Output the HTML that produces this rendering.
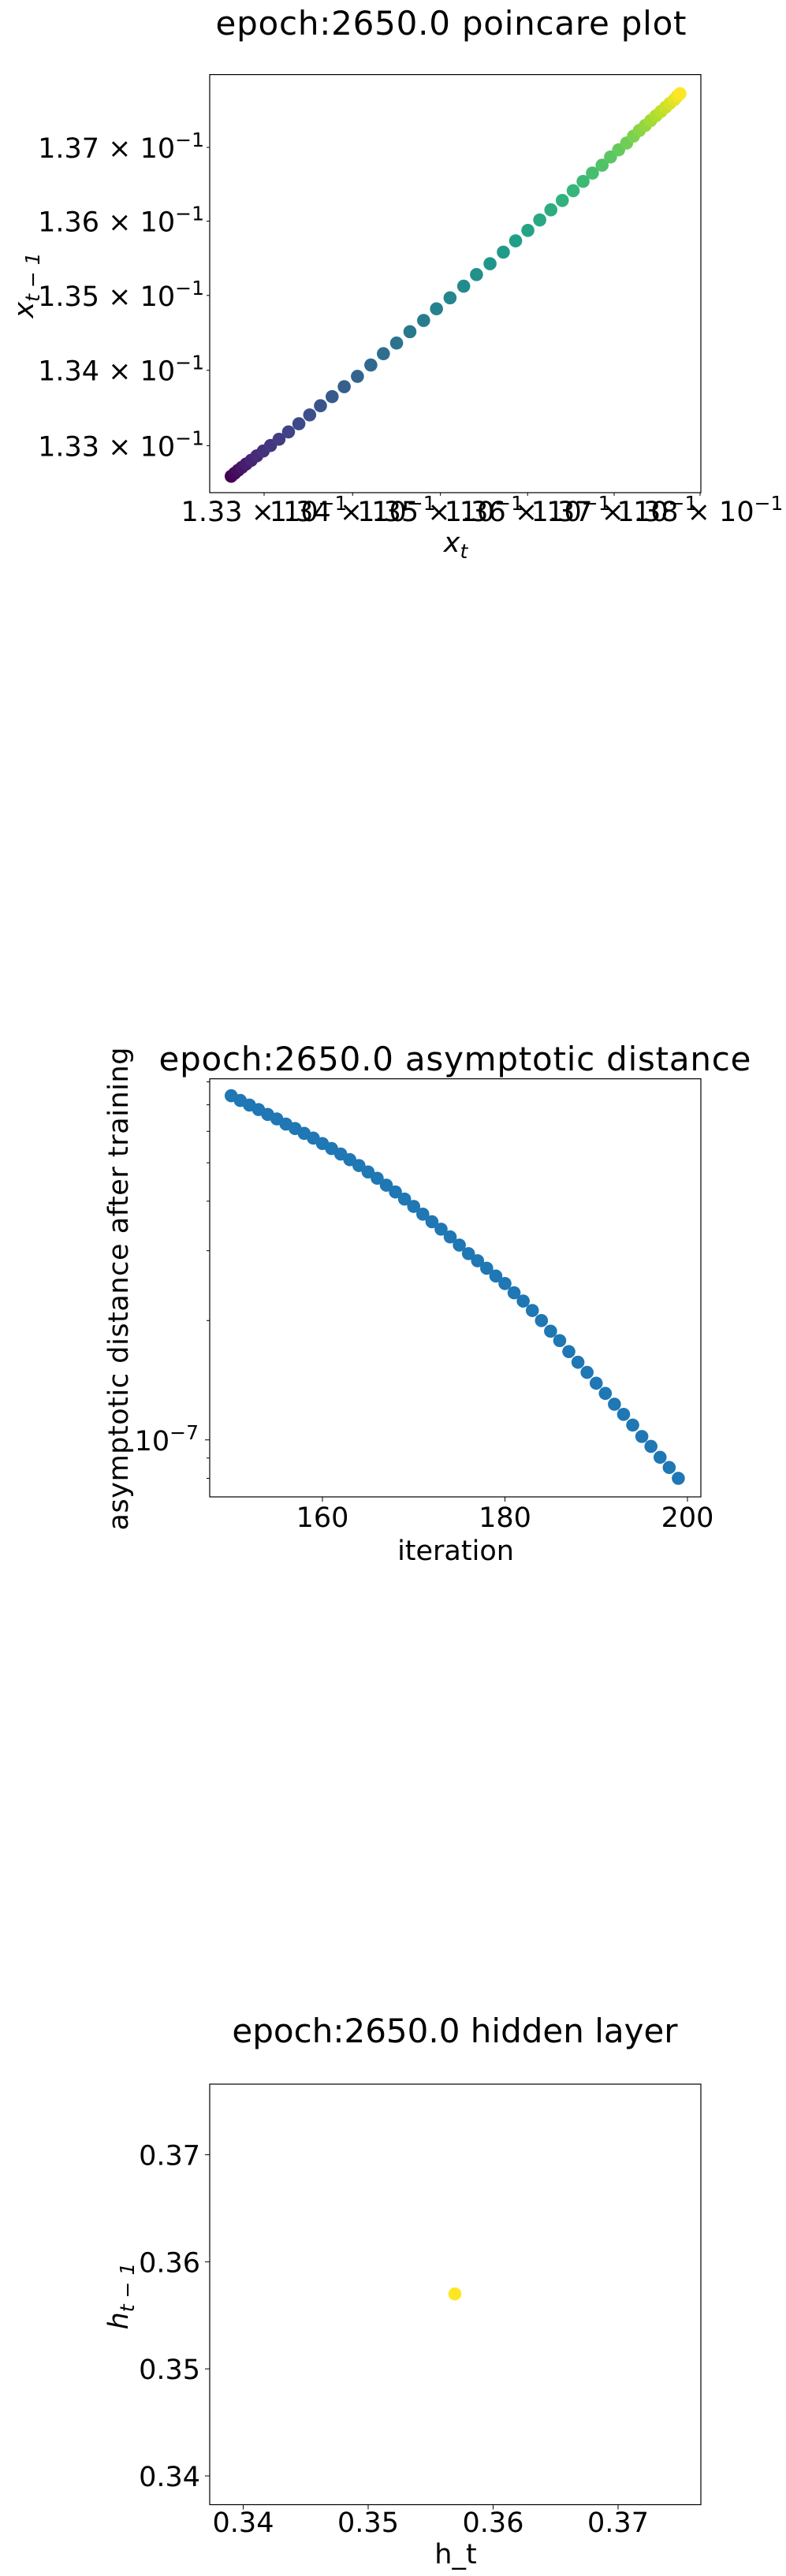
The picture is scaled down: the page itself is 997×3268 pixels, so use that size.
<!DOCTYPE html>
<html><head><meta charset="utf-8"><style>
html,body{margin:0;padding:0;background:#fff}
svg{display:block}
text{font-family:"DejaVu Sans","Liberation Sans",sans-serif;fill:#000}
</style></head><body>
<svg id="fig" width="997" height="3268" viewBox="0 0 997 3268" xmlns="http://www.w3.org/2000/svg"></svg>
<script>
// ---- Chart 1: poincare plot data ----
const poincareY = [1.32597,1.32636,1.32675,1.32714,1.32758,1.32807,1.32866,1.32929,1.33002,1.33085,1.33182,1.33290,1.33407,1.33529,1.33650,1.33782,1.33919,1.34070,1.34221,1.34363,1.34514,1.34665,1.34821,1.34968,1.35124,1.35280,1.35426,1.35582,1.35734,1.35875,1.36016,1.36153,1.36280,1.36412,1.36538,1.36651,1.36758,1.36870,1.36967,1.37060,1.37153,1.37231,1.37299,1.37367,1.37431,1.37490,1.37548,1.37602,1.37651,1.37700,1.37734];
const poincareX = [1.32630,1.32669,1.32708,1.32750,1.32798,1.32855,1.32918,1.32990,1.33072,1.33168,1.33275,1.33392,1.33514,1.33636,1.33768,1.33905,1.34055,1.34207,1.34350,1.34500,1.34652,1.34808,1.34955,1.35110,1.35266,1.35413,1.35568,1.35721,1.35862,1.36003,1.36140,1.36268,1.36400,1.36526,1.36640,1.36748,1.36860,1.36958,1.37052,1.37145,1.37224,1.37293,1.37361,1.37425,1.37485,1.37543,1.37598,1.37648,1.37698,1.37735,1.37765];
const poincareYTicks = [1.33,1.34,1.35,1.36,1.37];
const poincareXTicks = [1.33,1.34,1.35,1.36,1.37,1.38];
// ---- Chart 2: asymptotic distance data (units of 1e-7) ----
const iterations = [];
for (let i = 150; i <= 199; i++) iterations.push(i);
const distances = [7.38,7.18,6.99,6.81,6.62,6.45,6.26,6.10,5.93,5.77,5.59,5.43,5.26,5.09,4.92,4.74,4.57,4.39,4.22,4.05,3.88,3.71,3.55,3.40,3.25,3.10,2.95,2.83,2.71,2.59,2.48,2.35,2.24,2.12,2.00,1.88,1.78,1.67,1.57,1.48,1.39,1.31,1.23,1.16,1.09,1.02,0.963,0.904,0.852,0.800];
const iterTicks = [160,180,200];
const distMinorTicks = [0.8,0.9,2,3,4,5,6,7,8];
// ---- Chart 3: hidden layer ----
const hiddenX = [0.35694];
const hiddenY = [0.35700];
const hiddenTicks = [0.34,0.35,0.36,0.37];

const NS = "http://www.w3.org/2000/svg";
const svg = document.getElementById('fig');
function el(tag, attrs, parent) {
  const e = document.createElementNS(NS, tag);
  for (const k in attrs) e.setAttribute(k, attrs[k]);
  (parent || svg).appendChild(e);
  return e;
}
function txt(str, attrs, parent) { const t = el('text', attrs, parent); t.textContent = str; return t; }
function sup(t, base, s) {
  const a = document.createElementNS(NS, 'tspan'); a.textContent = base; t.appendChild(a);
  const b = document.createElementNS(NS, 'tspan'); b.textContent = s;
  b.setAttribute('dy', '-14'); b.setAttribute('font-size', '25'); t.appendChild(b);
}
function viridis(t) {
  const st = [[68,1,84],[72,40,120],[62,74,137],[49,104,142],[38,130,142],[31,158,137],[53,183,121],[110,206,88],[181,222,43],[253,231,37]];
  const p = t * (st.length - 1), i = Math.min(Math.floor(p), st.length - 2), f = p - i;
  const c = st[i].map((v, k) => Math.round(v + (st[i + 1][k] - v) * f));
  return 'rgb(' + c.join(',') + ')';
}
const L = 266, R = 889, FS = 35;

// ===== Chart 1 =====
const g1 = el('g', {});


const x1 = v => 335 + (Math.log10(v) - Math.log10(1.33)) / (Math.log10(1.38) - Math.log10(1.33)) * (888 - 335);
const y1 = v => 565.4 + (Math.log10(v) - Math.log10(1.33)) / (Math.log10(1.37) - Math.log10(1.33)) * (187 - 565.4);
const t1 = txt('epoch:2650.0 poincare plot', {x: 572, y: 44, 'font-size': 42, 'text-anchor': 'middle', textLength: 597}, g1);
 
poincareY.forEach((v, i) => {
  const c = el('circle', {cx: x1(poincareX[i]), cy: y1(v), r: 8.3, fill: viridis(i / (poincareY.length - 1))}, g1);
  
  
});
el('rect', {x: L, y: 94.6, width: R - L, height: 625 - 94.6, fill: 'none', stroke: '#000', 'stroke-width': 1.2}, g1);
poincareYTicks.forEach(v => {
  const y = y1(v);
  el('line', {x1: L - 4, x2: L, y1: y, y2: y, stroke: '#000'}, g1);
  const t = txt('', {x: 259, y: y + 13, 'font-size': FS, 'text-anchor': 'end'}, g1);
  sup(t, v.toFixed(2) + ' × 10', '−1');
   
});
poincareXTicks.forEach(v => {
  const x = x1(v);
  el('line', {x1: x, x2: x, y1: 625, y2: 629, stroke: '#000'}, g1);
  const t = txt('', {x: x, y: 661, 'font-size': FS, 'text-anchor': 'middle'}, g1);
  sup(t, v.toFixed(2) + ' × 10', '−1');
   
});
const xl1 = txt('', {x: 578, y: 700, 'font-size': FS, 'text-anchor': 'middle', 'font-style': 'italic'}, g1);
xl1.innerHTML = 'x<tspan font-size="25" dy="8">t</tspan>';
 
const yl1 = txt('', {x: 0, y: 0, 'font-size': FS, 'text-anchor': 'middle', 'font-style': 'italic', transform: 'translate(42,362) rotate(-90)'}, g1);
yl1.innerHTML = 'x<tspan font-size="25" dy="8">t − 1</tspan>';
 

// ===== Chart 2 =====
const g2 = el('g', {});


const T2 = 1368.6, B2 = 1899;
const x2 = v => 409 + (v - 160) / 20 * ((872 - 409) / 2);
const y2 = v => 1826.7 - Math.log10(v) * 503;
const t2 = txt('epoch:2650.0 asymptotic distance', {x: 577, y: 1358, 'font-size': 42, 'text-anchor': 'middle', textLength: 751}, g2);
 
distances.forEach((v, i) => {
  const c = el('circle', {cx: x2(iterations[i]), cy: y2(v), r: 8.3, fill: '#1f77b4'}, g2);
  
  
});
el('rect', {x: L, y: T2, width: R - L, height: B2 - T2, fill: 'none', stroke: '#000', 'stroke-width': 1.2}, g2);
iterTicks.forEach(v => {
  const x = x2(v);
  el('line', {x1: x, x2: x, y1: B2, y2: B2 + 6, stroke: '#000'}, g2);
  const t = txt(String(v), {x: x, y: 1937, 'font-size': FS, 'text-anchor': 'middle'}, g2);
   
});
el('line', {x1: L - 6, x2: L, y1: y2(1), y2: y2(1), stroke: '#000'}, g2);
const ty = txt('', {x: 252, y: 1840, 'font-size': FS, 'text-anchor': 'end'}, g2);
sup(ty, '10', '−7');
 
distMinorTicks.forEach(v => {
  const y = y2(v);
  if (y > T2 && y < B2) el('line', {x1: L - 4, x2: L, y1: y, y2: y, stroke: '#000'}, g2);
});
const xl2 = txt('iteration', {x: 578, y: 1979, 'font-size': FS, 'text-anchor': 'middle'}, g2);
 
const yl2 = txt('asymptotic distance after training', {x: 0, y: 0, 'font-size': FS, 'text-anchor': 'middle', textLength: 613, transform: 'translate(162,1635) rotate(-90)'}, g2);
 

// ===== Chart 3 =====
const g3 = el('g', {});


const T3 = 2644, B3 = 3177.5;
const x3 = v => 467 + (v - 0.35) / 0.01 * 158.5;
const y3 = v => 3005.2 - (v - 0.35) / 0.01 * 135.8;
const t3 = txt('epoch:2650.0 hidden layer', {x: 577, y: 2591, 'font-size': 42, 'text-anchor': 'middle'}, g3);
 
hiddenX.forEach((v, i) => {
  const c = el('circle', {cx: x3(v), cy: y3(hiddenY[i]), r: 8.3, fill: '#fde725'}, g3);
  
  
});
el('rect', {x: L, y: T3, width: R - L, height: B3 - T3, fill: 'none', stroke: '#000', 'stroke-width': 1.2}, g3);
hiddenTicks.forEach(v => {
  const x = x3(v), y = y3(v);
  el('line', {x1: x, x2: x, y1: B3, y2: B3 + 6, stroke: '#000'}, g3);
  const tx = txt(v.toFixed(2), {x: x, y: 3212, 'font-size': FS, 'text-anchor': 'middle'}, g3);
   
  el('line', {x1: L - 6, x2: L, y1: y, y2: y, stroke: '#000'}, g3);
  const tyy = txt(v.toFixed(2), {x: 254, y: y + 13, 'font-size': FS, 'text-anchor': 'end'}, g3);
   
});
const xl3 = txt('h_t', {x: 578, y: 3252, 'font-size': FS, 'text-anchor': 'middle'}, g3);
 
const yl3 = txt('', {x: 0, y: 0, 'font-size': FS, 'text-anchor': 'middle', 'font-style': 'italic', transform: 'translate(162,2913) rotate(-90)'}, g3);
yl3.innerHTML = 'h<tspan font-size="25" dy="8">t − 1</tspan>';
 
</script>
</body></html>
